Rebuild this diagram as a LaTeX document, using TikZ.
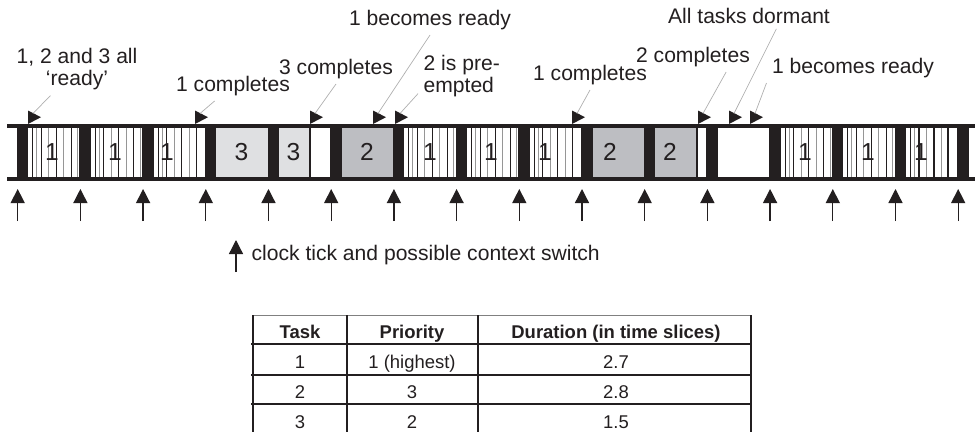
\documentclass[tikz,border=0pt]{standalone}
\usepackage{fontspec}
\setmainfont{Liberation Sans}
\usetikzlibrary{arrows.meta}

\definecolor{inkBlack}{RGB}{35,31,32}
\definecolor{taskThree}{RGB}{223,224,226}
\definecolor{taskTwo}{RGB}{189,190,194}
\definecolor{stripeGray}{RGB}{150,150,150}
\definecolor{leaderGray}{RGB}{175,175,175}

\begin{document}
\begin{tikzpicture}[
  x=0.2mm, y=-0.2mm,
  font=\fontsize{12}{12.7}\selectfont,
  note/.style={text=inkBlack, inner sep=3pt},
  digit/.style={text=inkBlack, font=\fontsize{14}{16}\selectfont, inner sep=0pt},
  leader/.style={draw=leaderGray, line width=0.4pt},
  tickarrow/.style={draw=inkBlack, line width=0.75pt, -{Triangle[length=8pt, width=8pt]}},
  stripeline/.style={line width=0.6pt},
  rule/.style={draw=inkBlack, line width=1.1pt},
  cell/.style={text=inkBlack, font=\fontsize{10.5}{12}\selectfont, anchor=base},
  head/.style={cell, font=\fontsize{10.5}{12}\selectfont\bfseries}
]
\useasboundingbox (0,0) rectangle (975,432);

% Timeline bars
\fill[inkBlack] (7,123.5) rectangle (975,127.5);
\fill[inkBlack] (7,176.5) rectangle (975,180.5);

% Context switch blocks
\foreach \k in {0,...,15} {
  \fill[inkBlack] (16.7+62.7*\k,127) rectangle (28.2+62.7*\k,177);
}

% Task 3 and task 2 slices
\fill[taskThree] (216.3,127.5) rectangle (267.5,176.5);
\fill[taskThree] (279,127.5) rectangle (310,176.5);
\fill[taskTwo] (341.7,127.5) rectangle (392.9,176.5);
\fill[taskTwo] (592.5,127.5) rectangle (643.7,176.5);
\fill[taskTwo] (655.2,127.5) rectangle (697,176.5);

% Task 1 slices (striped)
\foreach \s/\w in {28.2/51.2, 90.9/51.2, 153.6/43, 404.4/51.2, 467.1/51.2, 529.8/43, 780.6/51.2, 843.3/51.2, 906/42} {
  \begin{scope}
    \clip (\s,127.5) rectangle (\s+\w,176.5);
    \foreach \o/\c in {4.5/inkBlack, 8.5/stripeGray, 13/inkBlack, 20.5/stripeGray, 28/inkBlack, 35.5/stripeGray, 43/inkBlack, 49.5/stripeGray}
      \draw[stripeline, \c] (\s+\o,127.5) -- (\s+\o,176.5);
  \end{scope}
}

% Ends of part slices
\foreach \x in {196.6, 310, 572.8, 697, 948} {
  \draw[inkBlack, line width=0.6pt] (\x,127.5) -- (\x,176.5);
}

% Slice numbers
\foreach \x/\d [count=\i] in {52/1, 115/1, 167/1, 241.5/3, 293.5/3, 367/2, 430/1, 491/1, 545/1, 610/2, 670/2, 805/1, 868/1, 921/1} {
  \node[digit] (slot\i) at (\x,152) {\d};
}

% Clock ticks
\foreach \k in {0,...,15} {
  \coordinate (tail\k) at (17.7+62.7*\k,221);
  \coordinate (tip\k) at (17.7+62.7*\k,189);
  \draw[tickarrow] (tail\k) -- (tip\k);
}

% Event markers
\foreach \n/\x in {1/28, 2/195, 3/310, 4/373, 5/395, 6/572, 7/698, 8/729, 9/750} {
  \fill[inkBlack] (\x,124) -- (\x,110.5) -- (\x+13,117.2) -- cycle;
  \coordinate (mk\n) at (\x+5,113.5);
}

% Event labels
\node[note, align=center] (lb1) at (77,69) {1, 2 and 3 all\\‘ready’};
\node[note, anchor=base] (lb2) at (233,91) {1 completes};
\node[note, anchor=base] (lb3) at (336,74) {3 completes};
\node[note, anchor=base] (lb4) at (430,25) {1 becomes ready};
\node[note, align=left, anchor=west] (lb5) at (418,76) {2 is pre-\\empted};
\node[note, anchor=base] (lb6) at (590,80) {1 completes};
\node[note, anchor=base] (lb7) at (693,62) {2 completes};
\node[note, anchor=base] (lb8) at (749,23) {All tasks dormant};
\node[note, anchor=base] (lb9) at (853,73) {1 becomes ready};

\draw[leader] (mk1) -- (lb1.-135);
\draw[leader] (mk2) -- (lb2.-140);
\draw[leader] (mk3) -- (lb3.south);
\draw[leader] (mk4) -- (lb4.south);
\draw[leader] (mk5) -- (lb5.-158);
\draw[leader] (mk6) -- (lb6.south);
\draw[leader] (mk7) -- (lb7.-25);
\draw[leader] (mk8) -- (lb8.-26);
\draw[leader] (mk9) -- (lb9.south west);

% Key
\coordinate (keyTail) at (236,272);
\coordinate (keyTip) at (236,240);
\draw[tickarrow] (keyTail) -- (keyTip);
\node[note, anchor=base west] (key) at (246,260) {clock tick and possible context switch};

% Priority table
\draw[draw=gray, line width=0.5pt] (253,315) -- (751,315);
\foreach \y in {344,375,404} \draw[rule] (251,\y) -- (752,\y);
\foreach \x in {253,347,478,751} \draw[rule] (\x,315) -- (\x,432);

\node[head] (hTask) at (300,338) {Task};
\node[head] (hPrio) at (412,338) {Priority};
\node[head] (hDur) at (616,338) {Duration (in time slices)};
\foreach \r/\y/\a/\b/\c in {1/368/1/1 (highest)/2.7, 2/398/2/3/2.8, 3/428/3/2/1.5} {
  \node[cell] (task\r) at (300,\y) {\a};
  \node[cell] (prio\r) at (412,\y) {\b};
  \node[cell] (dur\r) at (616,\y) {\c};
}

\end{tikzpicture}
\end{document}
